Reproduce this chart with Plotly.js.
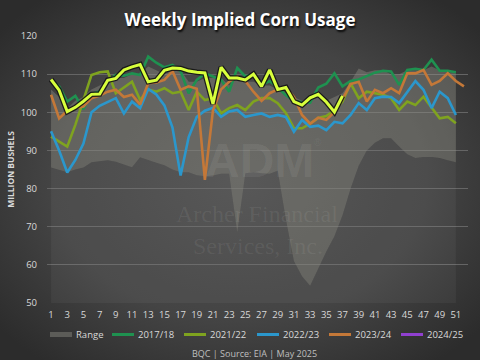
<!DOCTYPE html>
<html>
<head>
<meta charset="utf-8">
<script src="https://cdn.plot.ly/plotly-3.0.1.min.js"></script>
<style>
  html, body { margin: 0; padding: 0; background: #3a3a3a; }
  #chart { width: 480px; height: 360px; }
</style>
</head>
<body>
<div id="chart"></div>
<script>
// ---------- data ----------
const weeks = [1,2,3,4,5,6,7,8,9,10,11,12,13,14,15,16,17,18,19,20,21,22,23,24,25,26,
               27,28,29,30,31,32,33,34,35,36,37,38,39,40,41,42,43,44,45,46,47,48,49,50,51,52];
const weekTicks = [1,3,5,7,9,11,13,15,17,19,21,23,25,27,29,31,33,35,37,39,41,43,45,47,49,51];

const rangeLow = [85.5,84.8,84.3,85.0,85.5,86.9,87.2,87.4,87.0,86.2,85.6,88.2,87.4,86.8,86.1,85.0,
                  84.3,84.3,83.5,83.2,83.4,83.9,83.9,68.5,84.0,84.3,84.0,83.9,84.7,72.0,61.0,57.0,
                  54.5,59.0,63.5,67.5,73.0,80.0,86.0,90.0,92.0,93.2,93.2,91.0,89.0,88.0,88.3,88.3,
                  88.0,87.4,86.9];
const rangeHigh = [106,104,101,103,104,106,107,108,109,109,110,110,112,111,110,111,111,108,108,109,
                   109,109,107,109,108,108,107,107,106,105,104,103,104,104,103,104,105,108,111.5,110.5,
                   111,111,110,110,111,111,111,112,111,110.5,110.5];

const s2017 = [108.3,106.8,102.8,104.3,100.8,104.8,105.5,108.0,109.8,109.6,110.2,109.8,114.6,113.0,
               111.8,112.4,110.8,105.0,108.5,110.2,109.4,108.5,105.4,111.6,109.4,110.0,107.2,108.2,
               106.5,104.5,103.0,102.6,102.5,106.5,107.5,110.2,106.8,108.2,108.6,109.6,110.4,110.9,
               110.7,107.2,111.1,111.4,111.1,113.8,110.9,110.9,110.5];
const s2021 = [93.6,92.3,91.0,96.7,103.0,109.8,110.5,110.7,105.0,106.5,108.0,103.2,106.0,105.4,106.3,
               105.0,105.4,100.6,105.4,103.2,103.7,99.7,101.1,101.9,100.6,102.8,103.7,103.7,102.4,99.8,
               95.8,95.8,97.0,98.5,99.0,100.5,102.8,107.6,103.7,105.4,105.0,104.6,103.7,100.6,102.8,
               101.9,104.1,101.1,98.4,98.8,97.1];
const s2022 = [95.0,90.0,84.2,87.5,91.8,100.0,101.7,102.8,103.7,99.7,102.8,101.1,106.1,104.7,101.8,
               96.0,83.4,93.5,98.8,100.4,101.2,98.8,100.2,100.6,98.8,99.3,99.7,98.8,99.3,98.8,94.9,
               98.0,96.2,96.5,95.3,97.5,97.1,99.3,102.4,100.6,103.7,104.1,104.0,102.4,105.4,108.2,
               105.9,101.1,105.4,103.7,99.3];
const s2023 = [104.6,98.4,100.4,101.1,101.5,103.7,104.4,105.4,105.9,104.0,104.6,102.0,107.6,107.8,
               108.5,110.8,105.9,106.8,106.2,82.3,100.5,106.0,108.0,109.4,108.2,105.4,103.0,105.0,
               106.0,106.5,104.0,99.3,97.0,98.6,98.0,100.0,103.5,107.4,108.0,102.8,105.9,105.0,106.3,
               105.0,110.2,110.2,111.1,107.2,108.2,110.2,108.2,106.8];
const s2024 = [108.6,105.8,100.2,101.3,102.9,104.7,104.8,108.4,108.9,111.1,111.9,112.5,108.0,108.4,
               111.0,111.6,111.5,110.8,110.5,110.3,102.2,111.8,109.0,109.0,108.5,110.0,106.8,111.1,
               106.0,106.5,102.8,101.9,103.8,104.7,102.7,100.1,104.3];

const seriesNames = ['Range','2017/18','2021/22','2022/23','2023/24','2024/25'];
const yTicks = [50,60,70,80,90,100,110,120];

// ---------- styles ----------
const rangeSwatch = '#5c5c58';
const colors = ['#1f9150', '#7fa31f', '#2b97cc', '#c47838', '#9040d0'];  // legend colours
const lineW = 2.6;
const xs = n => weeks.slice(0, n);

const traces = [
  { x: xs(rangeLow.length), y: rangeLow, type: 'scatter', mode: 'lines',
    line: {width: 0, color: 'rgba(0,0,0,0)'}, fill: 'tozeroy',
    fillcolor: 'rgba(255,255,255,0.045)', showlegend: false, hoverinfo: 'skip' },
  { x: xs(rangeHigh.length), y: rangeHigh, type: 'scatter', mode: 'lines', name: seriesNames[0],
    line: {width: 0, color: 'rgba(0,0,0,0)'}, fill: 'tonexty',
    fillcolor: 'rgba(150,150,140,0.38)' },
  { x: xs(s2017.length), y: s2017, type: 'scatter', mode: 'lines', name: seriesNames[1],
    line: {color: colors[0], width: lineW} },
  { x: xs(s2021.length), y: s2021, type: 'scatter', mode: 'lines', name: seriesNames[2],
    line: {color: colors[1], width: lineW} },
  { x: xs(s2022.length), y: s2022, type: 'scatter', mode: 'lines', name: seriesNames[3],
    line: {color: colors[2], width: lineW} },
  { x: xs(s2023.length), y: s2023, type: 'scatter', mode: 'lines', name: seriesNames[4],
    line: {color: colors[3], width: lineW} },
  // 2024/25: plotted as a bright yellow-green line with a dark halo
  { x: xs(s2024.length), y: s2024, type: 'scatter', mode: 'lines', name: seriesNames[5],
    line: {color: 'rgba(20,20,20,0.9)', width: 5.5} },
  { x: xs(s2024.length), y: s2024, type: 'scatter', mode: 'lines', name: seriesNames[5],
    line: {color: '#d8ff3c', width: 3} }
];

// ---------- background (radial gradient) ----------
const bgSvg = '<svg xmlns="http://www.w3.org/2000/svg" width="480" height="360">' +
  '<defs><radialGradient id="g" cx="50%" cy="50%" r="65%">' +
  '<stop offset="0%" stop-color="#515151"/><stop offset="60%" stop-color="#444444"/>' +
  '<stop offset="100%" stop-color="#2c2c2c"/></radialGradient></defs>' +
  '<rect width="480" height="360" fill="url(#g)"/></svg>';
const bgUri = 'data:image/svg+xml;base64,' + btoa(bgSvg);

// ---------- custom legend (one row, compact swatches like the reference) ----------
const PW = 421, PH = 267, ML = 47, MT = 36;
const px = v => (v - ML) / PW;          // pixel -> paper x
const py = v => (MT + PH - v) / PH;     // pixel -> paper y
const legendLeft = [50, 112, 184, 257, 329, 401];
const legendY = 334.5;
const legendShapes = [];
const legendAnn = [];
seriesNames.forEach((nm, i) => {
  const x0 = legendLeft[i], x1 = x0 + 22;
  if (i === 0) {
    legendShapes.push({ type: 'rect', xref: 'paper', yref: 'paper', x0: px(x0), x1: px(x1),
      y0: py(legendY + 2.5), y1: py(legendY - 2.5), fillcolor: rangeSwatch, line: {width: 0} });
  } else {
    legendShapes.push({ type: 'line', xref: 'paper', yref: 'paper', x0: px(x0), x1: px(x1),
      y0: py(legendY), y1: py(legendY), line: {color: colors[i - 1], width: 3} });
  }
  legendAnn.push({ text: nm, xref: 'paper', yref: 'paper', x: px(x1 + 2), y: py(legendY),
    xanchor: 'left', yanchor: 'middle', showarrow: false,
    font: {size: 9.5, color: '#d9d9d9'} });
});

const wm = 'rgba(255,255,255,0.07)';
const layout = {
  width: 480, height: 360,
  paper_bgcolor: '#3a3a3a', plot_bgcolor: 'rgba(0,0,0,0)',
  margin: {l: ML, r: 12, t: MT, b: 57, autoexpand: false},
  font: {family: 'Open Sans, sans-serif', color: '#d9d9d9', size: 10},
  showlegend: false,
  title: { text: '<b>Weekly Implied Corn Usage</b>', x: 0.5, xanchor: 'center',
           y: 0.945, yanchor: 'middle',
           font: {size: 17, color: '#ffffff', family: 'Open Sans, sans-serif',
                  shadow: '1px 2px 2px rgba(0,0,0,0.9)'} },
  xaxis: { range: [0.5, 52.5], tickvals: weekTicks, ticktext: weekTicks.map(String),
           showgrid: false, zeroline: false, showline: false, ticks: '', ticklabelstandoff: 4,
           tickfont: {size: 9.5, color: '#d9d9d9'}, fixedrange: true },
  yaxis: { range: [50, 120], tickvals: yTicks, showgrid: true, gridcolor: '#656565', gridwidth: 1,
           zeroline: false, showline: false, ticks: '', ticklabelstandoff: 9,
           tickfont: {size: 9.5, color: '#d9d9d9'},
           title: {text: '<b>MILLION BUSHELS</b>', font: {size: 8.5, color: '#d9d9d9'}, standoff: 4},
           fixedrange: true },
  images: [{ source: bgUri, xref: 'paper', yref: 'paper', x: -ML/PW, y: 1 + MT/PH,
             sizex: 480/PW, sizey: 360/PH, sizing: 'stretch', xanchor: 'left', yanchor: 'top',
             layer: 'below' }],
  shapes: legendShapes,
  annotations: [
    { text: '<b>ADM</b>', xref: 'paper', yref: 'paper', x: px(259), y: py(160),
      showarrow: false, font: {size: 48, color: wm, family: 'Liberation Sans, sans-serif'} },
    { text: '®', xref: 'paper', yref: 'paper', x: px(318), y: py(142),
      showarrow: false, font: {size: 10, color: wm, family: 'Liberation Sans, sans-serif'} },
    { text: 'Archer Financial', xref: 'paper', yref: 'paper', x: px(257), y: py(228),
      yanchor: 'bottom', showarrow: false, borderpad: 0,
      font: {size: 24, color: wm, family: 'Liberation Serif, serif'} },
    { text: 'Services, Inc.', xref: 'paper', yref: 'paper', x: px(258), y: py(232),
      yanchor: 'top', showarrow: false, borderpad: 0,
      font: {size: 24, color: wm, family: 'Liberation Serif, serif'} },
    { text: 'BQC | Source: EIA | May 2025', xref: 'paper', yref: 'paper',
      x: px(254), y: py(353), yanchor: 'middle', showarrow: false,
      font: {size: 9, color: '#bfbfbf'} }
  ].concat(legendAnn)
};

Plotly.newPlot('chart', traces, layout, {staticPlot: true, displayModeBar: false});
</script>
</body>
</html>
